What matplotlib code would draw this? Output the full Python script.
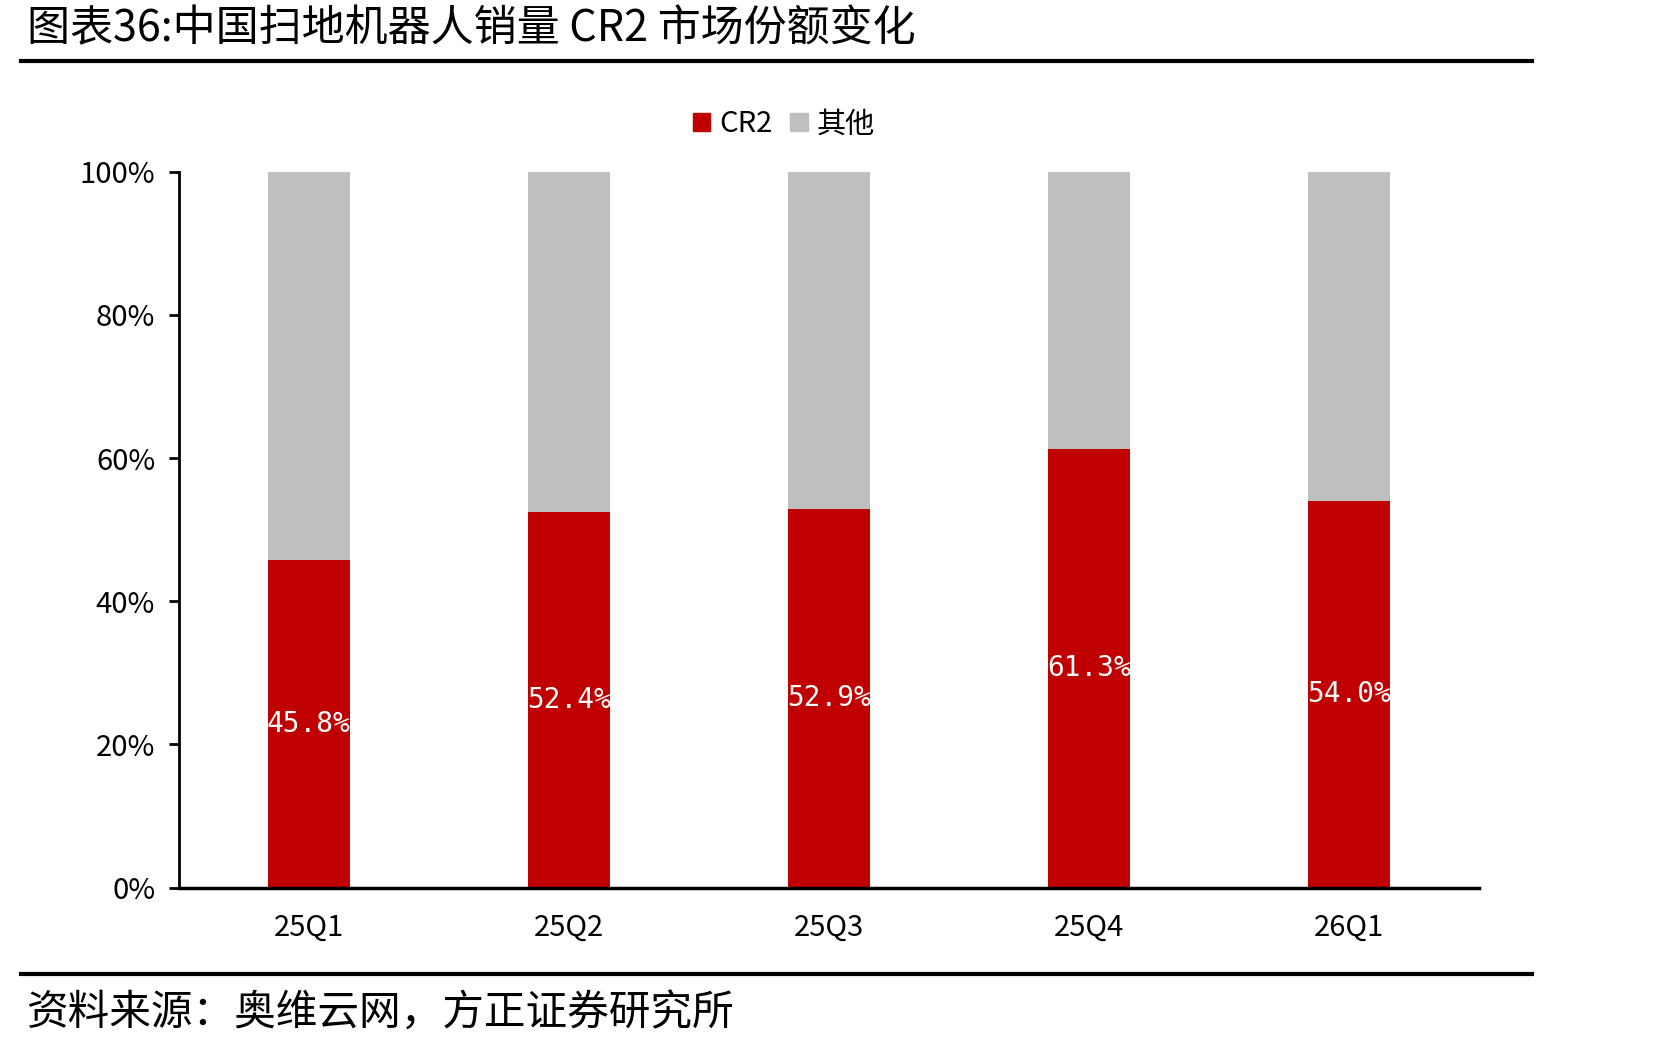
import numpy as np
import matplotlib
matplotlib.use("Agg")
import matplotlib.pyplot as plt
from matplotlib.lines import Line2D
from matplotlib.patches import Patch

# data
quarters = ["25Q1", "25Q2", "25Q3", "25Q4", "26Q1"]
cr2 = [45.8, 52.4, 52.9, 61.3, 54.0]
others = [100 - v for v in cr2]
yticks = [0, 20, 40, 60, 80, 100]

RED = "#C00000"
GREY = "#BFBFBF"
LAT = ["Liberation Sans Narrow", "Noto Sans CJK SC", "DejaVu Sans"]
CJK = ["Noto Sans CJK SC", "DejaVu Sans"]

plt.rcParams["font.family"] = LAT

fig = plt.figure(figsize=(16.71, 10.45), dpi=100)
ax = fig.add_axes([0.107, 0.1505, 0.778, 0.6853])

x = np.arange(len(quarters))
w = 0.315
ax.bar(x, cr2, w, color=RED, label="CR2", zorder=2)
ax.bar(x, others, w, bottom=cr2, color=GREY, label="其他", zorder=2)

for xi, v in zip(x, cr2):
    ax.text(xi, v / 2, f"{v:.1f}%", color="white", ha="center", va="center",
            fontsize=20, family=["DejaVu Sans Mono"], zorder=3)

ax.set_xlim(-0.5, len(quarters) - 0.5)
ax.set_ylim(0, 100)
ax.set_yticks(yticks)
ax.set_yticklabels([f"{t}%" for t in yticks])
ax.set_xticks(x)
ax.set_xticklabels(quarters)

for s in ["top", "right"]:
    ax.spines[s].set_visible(False)
ax.spines["left"].set_linewidth(2)
ax.spines["bottom"].set_linewidth(2.5)
ax.tick_params(axis="y", length=7, width=2, pad=10, labelsize=21)
ax.tick_params(axis="x", length=0, pad=18, labelsize=21)

handles = [Patch(color=RED, label="CR2"), Patch(color=GREY, label="其他")]
fig.legend(handles=handles, loc="center", bbox_to_anchor=(0.469, 0.881), ncol=2,
           frameon=False, fontsize=21, handlelength=0.6, handleheight=0.6,
           handletextpad=0.3, columnspacing=0.6)

# title + rules
fig.text(0.016, 0.972, "图表36:中国扫地机器人销量 CR2 市场份额变化", fontsize=31,
         ha="left", va="center", family=LAT)
fig.add_artist(Line2D([0.0126, 0.917], [0.942, 0.942], color="black", lw=3,
                      transform=fig.transFigure))
fig.add_artist(Line2D([0.0126, 0.917], [0.068, 0.068], color="black", lw=3,
                      transform=fig.transFigure))
fig.text(0.016, 0.030, "资料来源：奥维云网，方正证券研究所", fontsize=30,
         ha="left", va="center", family=CJK, style="italic")

fig.savefig("out.png", dpi=100)
